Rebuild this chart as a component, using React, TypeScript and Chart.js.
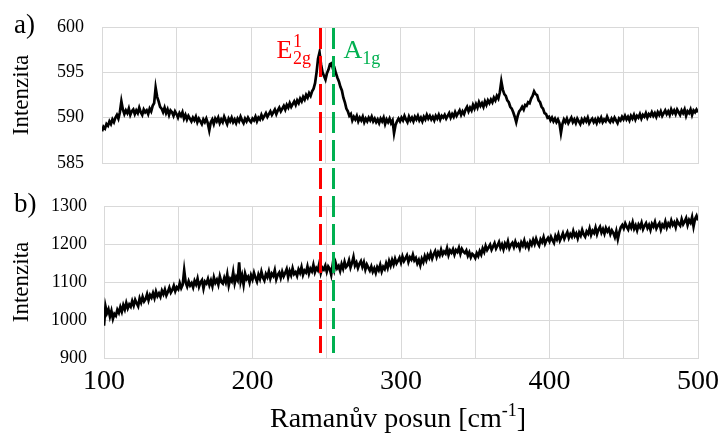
import React, { useEffect, useRef } from "react";
import { Chart, registerables } from "chart.js";
Chart.register(...registerables);

// Raman shift [cm-1]
const ramanShift = [
  100, 101, 102, 103, 104, 105, 106, 107, 108, 109,
  110, 111, 112, 113, 114, 115, 116, 117, 118, 119,
  120, 121, 122, 123, 124, 125, 126, 127, 128, 129,
  130, 131, 132, 133, 134, 135, 136, 137, 138, 139,
  140, 141, 142, 143, 144, 145, 146, 147, 148, 149,
  150, 151, 152, 153, 154, 155, 156, 157, 158, 159,
  160, 161, 162, 163, 164, 165, 166, 167, 168, 169,
  170, 171, 172, 173, 174, 175, 176, 177, 178, 179,
  180, 181, 182, 183, 184, 185, 186, 187, 188, 189,
  190, 191, 192, 193, 194, 195, 196, 197, 198, 199,
  200, 201, 202, 203, 204, 205, 206, 207, 208, 209,
  210, 211, 212, 213, 214, 215, 216, 217, 218, 219,
  220, 221, 222, 223, 224, 225, 226, 227, 228, 229,
  230, 231, 232, 233, 234, 235, 236, 237, 238, 239,
  240, 241, 242, 243, 244, 245, 246, 247, 248, 249,
  250, 251, 252, 253, 254, 255, 256, 257, 258, 259,
  260, 261, 262, 263, 264, 265, 266, 267, 268, 269,
  270, 271, 272, 273, 274, 275, 276, 277, 278, 279,
  280, 281, 282, 283, 284, 285, 286, 287, 288, 289,
  290, 291, 292, 293, 294, 295, 296, 297, 298, 299,
  300, 301, 302, 303, 304, 305, 306, 307, 308, 309,
  310, 311, 312, 313, 314, 315, 316, 317, 318, 319,
  320, 321, 322, 323, 324, 325, 326, 327, 328, 329,
  330, 331, 332, 333, 334, 335, 336, 337, 338, 339,
  340, 341, 342, 343, 344, 345, 346, 347, 348, 349,
  350, 351, 352, 353, 354, 355, 356, 357, 358, 359,
  360, 361, 362, 363, 364, 365, 366, 367, 368, 369,
  370, 371, 372, 373, 374, 375, 376, 377, 378, 379,
  380, 381, 382, 383, 384, 385, 386, 387, 388, 389,
  390, 391, 392, 393, 394, 395, 396, 397, 398, 399,
  400, 401, 402, 403, 404, 405, 406, 407, 408, 409,
  410, 411, 412, 413, 414, 415, 416, 417, 418, 419,
  420, 421, 422, 423, 424, 425, 426, 427, 428, 429,
  430, 431, 432, 433, 434, 435, 436, 437, 438, 439,
  440, 441, 442, 443, 444, 445, 446, 447, 448, 449,
  450, 451, 452, 453, 454, 455, 456, 457, 458, 459,
  460, 461, 462, 463, 464, 465, 466, 467, 468, 469,
  470, 471, 472, 473, 474, 475, 476, 477, 478, 479,
  480, 481, 482, 483, 484, 485, 486, 487, 488, 489,
  490, 491, 492, 493, 494, 495, 496, 497, 498, 499,
  500,
];

// panel a) intensity
const intensityA = [
  588.5, 589.0, 588.8, 589.3, 589.1, 589.6, 589.3, 589.8, 589.5, 590.0,
  590.3, 589.9, 590.6, 591.8, 590.9, 590.4, 590.8, 590.5, 591.0, 590.3,
  590.7, 590.9, 590.4, 590.8, 590.5, 591.1, 590.6, 590.3, 590.9, 590.6,
  590.8, 590.4, 591.0, 590.7, 591.3, 591.6, 593.3, 592.3, 591.8, 591.2,
  591.0, 590.6, 591.1, 590.5, 590.9, 590.3, 590.8, 590.6, 590.2, 590.7,
  590.4, 590.0, 590.5, 590.2, 590.6, 589.9, 590.3, 589.8, 590.2, 589.9,
  589.6, 590.0, 589.7, 590.1, 589.5, 589.9, 589.6, 589.3, 589.8, 589.5,
  589.9, 589.4, 588.6, 589.5, 589.8, 589.3, 589.9, 589.6, 590.0, 589.4,
  589.8, 589.5, 590.1, 589.7, 589.3, 589.9, 589.6, 590.0, 589.5, 589.8,
  589.4, 589.9, 589.6, 590.1, 589.7, 589.4, 589.9, 589.6, 590.0, 589.7,
  589.5, 589.9, 589.7, 590.1, 589.6, 590.0, 589.8, 590.3, 589.9, 590.2,
  590.5, 590.1, 590.4, 590.7, 590.3, 590.6, 590.9, 590.4, 590.8, 591.1,
  590.7, 591.0, 591.3, 590.9, 591.4, 591.1, 591.6, 591.2, 591.5, 591.8,
  591.4, 591.9, 591.6, 592.1, 591.8, 592.3, 592.0, 592.5, 592.2, 592.7,
  592.4, 592.9, 593.2, 593.8, 595.0, 596.5, 597.2, 595.9, 595.0, 594.6,
  594.2, 594.9, 595.3, 595.9, 596.0, 595.4, 595.5, 594.9, 594.4, 594.0,
  593.4, 593.0, 592.2, 591.7, 591.0, 590.7, 590.2, 590.4, 589.7, 590.1,
  589.8, 590.2, 589.6, 590.0, 589.7, 590.1, 589.5, 589.9, 589.6, 590.0,
  589.7, 590.1, 589.6, 589.9, 589.5, 589.8, 589.4, 589.9, 589.6, 590.0,
  589.3, 589.8, 589.5, 589.9, 589.4, 589.7, 588.3, 589.2, 589.6, 589.9,
  589.6, 590.0, 589.7, 590.2, 589.8, 589.5, 590.1, 589.7, 590.0, 589.6,
  590.1, 589.8, 590.2, 589.7, 590.0, 589.6, 590.1, 589.8, 590.3, 589.9,
  590.2, 589.8, 590.1, 589.7, 590.2, 589.9, 590.3, 589.8, 590.2, 590.0,
  590.3, 589.9, 590.2, 590.5, 590.0, 590.4, 590.1, 590.6, 590.2, 590.5,
  590.8, 590.3, 590.7, 590.4, 590.9, 591.2, 590.7, 591.1, 590.8, 591.4,
  591.0, 591.5, 591.1, 591.7, 591.3, 591.6, 591.2, 591.8, 591.4, 591.9,
  591.6, 592.0, 591.7, 592.2, 591.9, 592.4, 592.1, 592.8, 594.0, 593.1,
  592.6, 592.4, 591.9, 591.7, 591.2, 591.0, 590.6, 590.1, 589.5, 590.2,
  590.7, 590.9, 591.2, 590.9, 591.4, 591.3, 591.7, 591.6, 592.1, 592.4,
  592.9, 592.6, 592.5, 591.9, 591.7, 591.2, 591.0, 590.5, 590.4, 590.0,
  590.1, 589.7, 590.0, 589.6, 589.9, 589.5, 589.8, 589.4, 588.3, 589.3,
  589.8, 589.5, 589.9, 589.4, 589.7, 590.0, 589.5, 589.8, 589.4, 589.9,
  589.6, 589.3, 589.8, 589.5, 589.9, 589.6, 590.0, 589.4, 589.7, 589.9,
  589.5, 589.8, 589.4, 589.9, 589.6, 590.0, 589.5, 589.8, 589.6, 590.1,
  589.7, 589.5, 589.9, 589.6, 590.0, 589.7, 589.4, 589.9, 589.7, 590.1,
  589.8, 590.2, 589.8, 590.1, 589.7, 590.2, 589.9, 590.3, 589.8, 590.2,
  590.0, 590.4, 589.9, 590.3, 590.1, 590.5, 590.0, 590.4, 590.2, 590.6,
  590.2, 590.5, 590.1, 590.6, 590.3, 590.7, 590.2, 590.5, 590.8, 590.4,
  590.7, 590.3, 590.9, 590.5, 590.8, 590.4, 590.9, 590.6, 590.3, 590.8,
  590.5, 590.9, 590.2, 590.7, 590.5, 590.9, 590.3, 590.8, 590.6, 590.9,
  590.6,
];

// panel b) intensity
const intensityB = [
  985, 1036, 1018, 1028, 1009, 1024, 1003, 1016, 1011, 1027,
  1019, 1034, 1022, 1039, 1028, 1045, 1031, 1041, 1035, 1050,
  1038, 1053, 1044, 1036, 1057, 1046, 1061, 1049, 1055, 1068,
  1052, 1066, 1059, 1071, 1058, 1075, 1063, 1070, 1061, 1077,
  1068, 1080, 1065, 1074, 1085, 1072, 1079, 1090, 1076, 1086,
  1081, 1097, 1084, 1093, 1131, 1099, 1088, 1102, 1091, 1097,
  1086, 1103, 1094, 1109, 1088, 1099, 1105, 1083, 1101, 1096,
  1108, 1092, 1104, 1089, 1112, 1098, 1106, 1093, 1115, 1100,
  1096, 1111, 1099, 1120, 1091, 1108, 1102, 1126, 1097, 1113,
  1105, 1152, 1101, 1117, 1093, 1122, 1108, 1114, 1099, 1118,
  1107, 1124, 1111, 1101, 1119, 1108, 1127, 1112, 1104, 1121,
  1113, 1128, 1109, 1122, 1116, 1131, 1107, 1119, 1125, 1111,
  1127, 1115, 1124, 1134, 1113, 1129, 1118, 1136, 1121, 1126,
  1116, 1133, 1124, 1139, 1119, 1130, 1125, 1141, 1122, 1135,
  1128, 1145, 1126, 1137, 1131, 1149, 1124, 1138, 1133, 1143,
  1127, 1141, 1135, 1119, 1146, 1131, 1150, 1136, 1142, 1129,
  1147, 1135, 1153, 1139, 1144, 1157, 1138, 1150, 1166, 1143,
  1151, 1137, 1148, 1155, 1140, 1152, 1133, 1146, 1138, 1130,
  1141, 1127, 1136, 1124, 1139, 1131, 1145, 1128, 1140, 1134,
  1149, 1137, 1155, 1143, 1158, 1146, 1161, 1149, 1156, 1164,
  1151, 1167, 1155, 1162, 1170, 1153, 1165, 1159, 1172, 1157,
  1163, 1149, 1158, 1144, 1161, 1152, 1168, 1157, 1171, 1163,
  1176, 1162, 1173, 1181, 1166, 1178, 1170, 1185, 1172, 1180,
  1175, 1189, 1171, 1183, 1177, 1186, 1172, 1184, 1179, 1190,
  1174, 1187, 1180, 1176, 1183, 1169, 1178, 1165, 1174, 1170,
  1163, 1176, 1168, 1181, 1172, 1188, 1179, 1195, 1184, 1191,
  1198, 1185, 1193, 1202, 1188, 1196, 1205, 1190, 1199, 1186,
  1201, 1193, 1207, 1189, 1198, 1203, 1192, 1206, 1195, 1200,
  1188, 1204, 1196, 1209, 1193, 1201, 1190, 1206, 1198, 1211,
  1200, 1214, 1203, 1196, 1212, 1205, 1218, 1201, 1210, 1216,
  1207, 1219, 1210, 1203, 1221, 1212, 1225, 1209, 1218, 1228,
  1214, 1223, 1231, 1216, 1226, 1219, 1234, 1221, 1228, 1215,
  1230, 1222, 1237, 1225, 1219, 1233, 1227, 1241, 1224, 1235,
  1229, 1243, 1226, 1238, 1245, 1230, 1239, 1227, 1242, 1233,
  1240, 1226, 1236, 1229, 1218, 1234, 1213, 1231, 1244, 1250,
  1241, 1254, 1245, 1238, 1252, 1243, 1257, 1240, 1249, 1236,
  1251, 1244, 1256, 1239, 1248, 1255, 1242, 1250, 1237, 1253,
  1246, 1258, 1241, 1249, 1255, 1238, 1251, 1245, 1259, 1243,
  1254, 1247, 1262, 1250, 1257, 1244, 1261, 1253, 1248, 1265,
  1252, 1259, 1268, 1250, 1263, 1256, 1271, 1246, 1266, 1274,
  1262,
];

// marked Raman modes
const peakPositions = [246, 255];
const peakColors = ["#FF0000", "#00B050"];

const xMin = 100;
const xMax = 500;
const xStep = 50;
const yRangeA = [585, 600];
const yStepA = 5;
const yRangeB = [900, 1300];
const yStepB = 100;

const GRID = "#D9D9D9";
const SERIF = "'Liberation Serif', 'DejaVu Serif', serif";

const PAGE_W = 721;
const TOP_H = 185;
const BOT_H = 434 - TOP_H;
const DASH = [21, 7];
const DASH_START = 28; // page y where dashed lines begin
const DASH_END = 353; // page y where dashed lines end

type Shared = { px: number[] };

function makeOverlay(canvasTop: number, panel: string, labelY: number, isTop: boolean, shared: Shared) {
  return {
    id: "overlay-" + panel,
    afterDatasetsDraw(chart: any) {
      const ctx = chart.ctx as CanvasRenderingContext2D;
      const xs = chart.scales.x;
      // the marker lines span both panels: take their pixel positions from panel a)
      if (isTop || shared.px.length === 0) {
        shared.px = peakPositions.map((p) => Math.round(xs.getPixelForValue(p)) + 0.5);
      }
      ctx.save();
      ctx.lineWidth = 3;
      ctx.setLineDash(DASH);
      const y0 = Math.max(0, DASH_START - canvasTop);
      const y1 = Math.min(chart.height, DASH_END - canvasTop);
      const period = DASH[0] + DASH[1];
      ctx.lineDashOffset = (canvasTop + y0 - DASH_START) % period;
      shared.px.forEach((px, i) => {
        ctx.strokeStyle = peakColors[i];
        ctx.beginPath();
        ctx.moveTo(px, y0);
        ctx.lineTo(px, y1);
        ctx.stroke();
      });
      ctx.setLineDash([]);
      // panel letter
      ctx.fillStyle = "#000";
      ctx.font = `27px ${SERIF}`;
      ctx.textBaseline = "alphabetic";
      ctx.textAlign = "left";
      ctx.fillText(panel, 14, labelY);
      if (isTop) {
        const redX = shared.px[0];
        const greenX = shared.px[1];
        ctx.fillStyle = peakColors[0];
        ctx.font = `26px ${SERIF}`;
        const eX = redX - 44;
        ctx.fillText("E", eX, 58);
        const eW = ctx.measureText("E").width;
        ctx.font = `18px ${SERIF}`;
        ctx.fillText("1", eX + eW + 0.5, 47);
        ctx.fillText("2g", eX + eW + 0.5, 64);
        ctx.fillStyle = peakColors[1];
        ctx.font = `26px ${SERIF}`;
        const aX = greenX + 10;
        ctx.fillText("A", aX, 58);
        const aW = ctx.measureText("A").width;
        ctx.font = `18px ${SERIF}`;
        ctx.fillText("1g", aX + aW, 64);
      } else {
        // x-axis title with superscript
        const ca = chart.chartArea;
        const main = "Ramanův posun [cm";
        const sup = "-1";
        const close = "]";
        ctx.fillStyle = "#000";
        ctx.font = `28px ${SERIF}`;
        const w1 = ctx.measureText(main).width;
        const w3 = ctx.measureText(close).width;
        ctx.font = `18px ${SERIF}`;
        const w2 = ctx.measureText(sup).width;
        const total = w1 + w2 + w3;
        const cx = (ca.left + ca.right) / 2 - 3;
        let x = cx - total / 2;
        const base = 242;
        ctx.font = `28px ${SERIF}`;
        ctx.fillText(main, x, base);
        x += w1;
        ctx.font = `18px ${SERIF}`;
        ctx.fillText(sup, x, base - 11);
        x += w2;
        ctx.font = `28px ${SERIF}`;
        ctx.fillText(close, x, base);
      }
      ctx.restore();
    },
  };
}

function xTickLabel(v: any) {
  return Number(v) % 100 === 0 ? String(v) : "";
}
function yTickLabel(v: any) {
  return String(v);
}
function noVerticalOverhang(width: number) {
  return (s: any) => {
    s.width = width;
    s.paddingTop = 0;
    s.paddingBottom = 0;
  };
}
function noHorizontalOverhang(height: number) {
  return (s: any) => {
    s.height = height;
    s.paddingLeft = 0;
    s.paddingRight = 0;
  };
}

function baseDataset(data: { x: number; y: number }[]) {
  return {
    data,
    borderColor: "#000",
    borderWidth: 2.7,
    pointRadius: 0,
    tension: 0,
    fill: false,
  };
}

export default function App() {
  const topRef = useRef<HTMLCanvasElement>(null);
  const botRef = useRef<HTMLCanvasElement>(null);

  useEffect(() => {
    const ptsA = ramanShift.map((x, i) => ({ x, y: intensityA[i] }));
    const ptsB = ramanShift.map((x, i) => ({ x, y: intensityB[i] }));
    const shared: Shared = { px: [] };

    const top = new Chart(topRef.current!, {
      type: "line",
      data: { datasets: [baseDataset(ptsA)] },
      options: {
        animation: false,
        responsive: false,
        maintainAspectRatio: false,
        layout: { padding: { top: 27, right: 23, left: 0, bottom: 0 } },
        plugins: { legend: { display: false }, tooltip: { enabled: false } },
        scales: {
          x: {
            type: "linear",
            min: xMin,
            max: xMax,
            ticks: { display: false, stepSize: xStep, autoSkip: false },
            grid: { color: GRID, drawTicks: false, lineWidth: 1 },
            border: { display: true, color: GRID },
            afterFit: noHorizontalOverhang(22),
          },
          y: {
            min: yRangeA[0],
            max: yRangeA[1],
            ticks: {
              stepSize: yStepA,
              padding: 18,
              color: "#000",
              font: { family: SERIF, size: 18 },
              callback: yTickLabel,
            },
            grid: { color: GRID, drawTicks: false, lineWidth: 1 },
            border: { display: true, color: GRID },
            title: {
              display: true,
              text: "Intenzita",
              color: "#000",
              font: { family: SERIF, size: 23 },
              padding: { top: 8, bottom: 0 },
            },
            afterFit: noVerticalOverhang(102),
          },
        },
      },
      plugins: [makeOverlay(0, "a)", 33, true, shared)],
    } as any);

    const bot = new Chart(botRef.current!, {
      type: "line",
      data: { datasets: [baseDataset(ptsB)] },
      options: {
        animation: false,
        responsive: false,
        maintainAspectRatio: false,
        layout: { padding: { top: 21, right: 23, left: 0, bottom: 0 } },
        plugins: { legend: { display: false }, tooltip: { enabled: false } },
        scales: {
          x: {
            type: "linear",
            min: xMin,
            max: xMax,
            ticks: {
              stepSize: xStep,
              autoSkip: false,
              maxRotation: 0,
              padding: 7,
              color: "#000",
              font: { family: SERIF, size: 28 },
              callback: xTickLabel,
            },
            grid: { color: GRID, drawTicks: false, lineWidth: 1 },
            border: { display: true, color: GRID },
            afterFit: noHorizontalOverhang(76),
          },
          y: {
            min: yRangeB[0],
            max: yRangeB[1],
            ticks: {
              stepSize: yStepB,
              padding: 17,
              color: "#000",
              font: { family: SERIF, size: 18 },
              callback: yTickLabel,
            },
            grid: { color: GRID, drawTicks: false, lineWidth: 1 },
            border: { display: true, color: GRID },
            title: {
              display: true,
              text: "Intenzita",
              color: "#000",
              font: { family: SERIF, size: 23 },
              padding: { top: 8, bottom: 0 },
            },
            afterFit: noVerticalOverhang(104),
          },
        },
      },
      plugins: [makeOverlay(TOP_H, "b)", 27, false, shared)],
    } as any);

    return () => {
      top.destroy();
      bot.destroy();
    };
  }, []);

  return (
    <div style={{ position: "absolute", left: 0, top: 0, width: PAGE_W, height: 434, background: "#fff" }}>
      <canvas
        ref={topRef}
        width={PAGE_W}
        height={TOP_H}
        style={{ position: "absolute", left: 0, top: 0, width: PAGE_W, height: TOP_H }}
      />
      <canvas
        ref={botRef}
        width={PAGE_W}
        height={BOT_H}
        style={{ position: "absolute", left: 0, top: TOP_H, width: PAGE_W, height: BOT_H }}
      />
    </div>
  );
}
